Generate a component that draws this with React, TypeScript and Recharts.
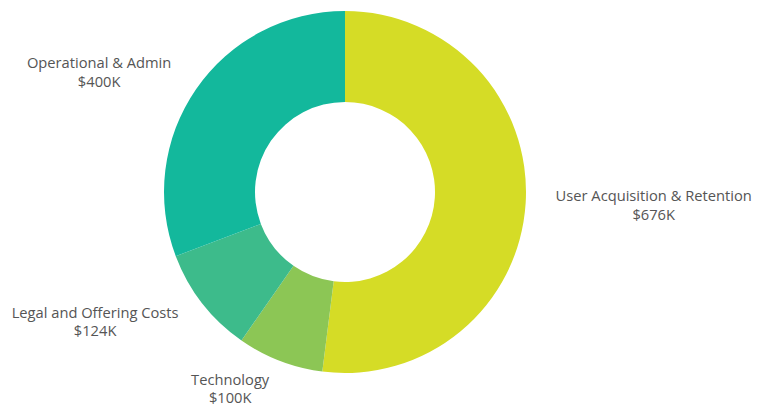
import React from "react";
import { PieChart, Pie, Cell } from "recharts";

const categories = [
  "User Acquisition & Retention",
  "Technology",
  "Legal and Offering Costs",
  "Operational & Admin",
];
const amounts = [676, 100, 124, 400];
const valueLabels = ["$676K", "$100K", "$124K", "$400K"];
const colors = ["#D5DC26", "#8CC655", "#3DBB8B", "#13B89C"];

const data = categories.map((name, i) => ({ name, value: amounts[i], label: valueLabels[i] }));

const FONT = "'Open Sans', sans-serif";
const FONT_SIZE = 14.7;
const FONT_WEIGHT = 500;
const RADIAN = Math.PI / 180;

let ctx: CanvasRenderingContext2D | null = null;
function measure(text: string) {
  if (typeof document === "undefined") return text.length * 7.5;
  if (!ctx) ctx = document.createElement("canvas").getContext("2d");
  if (!ctx) return text.length * 7.5;
  ctx.font = `${FONT_WEIGHT} ${FONT_SIZE}px 'Open Sans'`;
  return ctx.measureText(text).width;
}

const renderLabel = (props: any) => {
  const { cx, cy, midAngle, outerRadius, index } = props;
  const r = outerRadius + 30;
  const x = cx + r * Math.cos(-midAngle * RADIAN);
  const y = cy + r * Math.sin(-midAngle * RADIAN);
  const item = data[index];
  const w = measure(item.name);
  let centerX = x;
  const dx = x - cx;
  if (dx > 40) centerX = x + w / 2;
  else if (dx < -40) centerX = x - w / 2;
  const common = {
    textAnchor: "middle" as const,
    fill: "#555555",
    fontFamily: FONT,
    fontSize: FONT_SIZE,
    fontWeight: FONT_WEIGHT,
  };
  return (
    <g>
      <text x={centerX} y={y - 4} {...common}>
        {item.name}
      </text>
      <text x={centerX} y={y + 14.5} {...common}>
        {item.label}
      </text>
    </g>
  );
};

export default function App() {
  return (
    <div style={{ position: "absolute", left: 0, top: 0, width: 759, height: 417, background: "#ffffff" }}>
      <PieChart width={759} height={417} margin={{ top: 0, right: 0, bottom: 0, left: 0 }}>
        <Pie
          data={data}
          dataKey="value"
          nameKey="name"
          cx={345}
          cy={192}
          innerRadius={90}
          outerRadius={181}
          startAngle={90}
          endAngle={-270}
          stroke="none"
          label={renderLabel}
          labelLine={false}
          isAnimationActive={false}
        >
          {data.map((d, i) => (
            <Cell key={d.name} fill={colors[i]} />
          ))}
        </Pie>
      </PieChart>
    </div>
  );
}
